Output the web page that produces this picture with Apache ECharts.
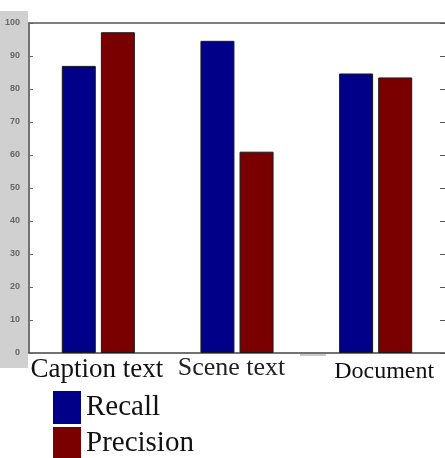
<!DOCTYPE html>
<html>
<head>
<meta charset="utf-8">
<script src="https://cdn.jsdelivr.net/npm/echarts@6/dist/echarts.min.js"></script>
<style>
  html, body { margin: 0; padding: 0; background: #fff; }
  #chart { width: 445px; height: 458px; }
</style>
</head>
<body>
<div id="chart"></div>
<script>
// values
const categories = ['Caption text', 'Scene text', 'Document']
const recall = [87, 94.6, 84.7]
const precision = [97.2, 61, 83.5]
const yTicks = { min: 0, max: 100, step: 10 }

// each category label sits a bit differently in the original
const labelKeys = ['cap', 'scene', 'doc']

const chart = echarts.init(document.getElementById('chart'))

const serif = '"Liberation Serif", "DejaVu Serif", serif'

let option = {
  backgroundColor: '#fff',
  animation: false,
  graphic: [
    {
      type: 'rect',
      z: -10,
      shape: { x: 0, y: 11, width: 28, height: 357 },
      style: { fill: '#d0d0d0' }
    },
    {
      type: 'rect',
      shape: { x: 300, y: 354, width: 26, height: 2 },
      style: { fill: '#c8c8c8' }
    }
  ],
  grid: {
    left: 29,
    top: 23,
    width: 419,
    height: 330
  },
  legend: {
    orient: 'vertical',
    left: 53,
    top: 391,
    height: 90,
    padding: 0,
    itemWidth: 28,
    itemHeight: 33,
    itemGap: 3,
    icon: 'rect',
    itemStyle: { borderWidth: 0 },
    textStyle: {
      fontFamily: serif,
      fontSize: 29,
      color: '#111',
      padding: [2, 0, 0, 0]
    },
    data: ['Recall', 'Precision']
  },
  xAxis: [
    {
      type: 'category',
      data: categories,
      position: 'bottom',
      axisLine: { onZero: false, lineStyle: { color: '#444', width: 1.5 } },
      axisTick: { alignWithLabel: true, inside: true, length: 3, lineStyle: { color: '#666' } },
      axisLabel: {
        margin: 2,
        interval: 0,
        color: '#111',
        fontFamily: serif,
        formatter: function (value, idx) {
          return '{' + labelKeys[idx] + '|' + value + '}'
        },
        rich: {
          cap: { fontFamily: serif, fontSize: 27, lineHeight: 27, color: '#111', padding: [2, 3, 0, 0] },
          scene: { fontFamily: serif, fontSize: 26, lineHeight: 26, color: '#222', padding: [0, 11, 0, 0] },
          doc: { fontFamily: serif, fontSize: 24, lineHeight: 24, color: '#111', padding: [10, 0, 0, 17] }
        }
      }
    },
    {
      type: 'category',
      data: categories,
      position: 'top',
      axisLine: { onZero: false, lineStyle: { color: '#555', width: 1.5 } },
      axisTick: { alignWithLabel: true, inside: true, length: 4, lineStyle: { color: '#555' } },
      axisLabel: { show: false }
    }
  ],
  yAxis: [
    {
      type: 'value',
      min: yTicks.min,
      max: yTicks.max,
      interval: yTicks.step,
      position: 'left',
      splitLine: { show: false },
      axisLine: { show: true, onZero: false, lineStyle: { color: '#444', width: 1.5 } },
      axisTick: { show: true, inside: true, length: 4, lineStyle: { color: '#666' } },
      axisLabel: {
        margin: 9,
        fontSize: 9,
        fontWeight: 'bold',
        color: '#666',
        fontFamily: '"Liberation Sans", Arial, sans-serif'
      }
    },
    {
      type: 'value',
      min: yTicks.min,
      max: yTicks.max,
      interval: yTicks.step,
      position: 'right',
      splitLine: { show: false },
      axisLine: { show: true, onZero: false, lineStyle: { color: '#444' } },
      axisTick: { show: true, inside: true, length: 5, lineStyle: { color: '#555' } },
      axisLabel: { show: false }
    }
  ],
  series: [
    {
      name: 'Recall',
      type: 'bar',
      data: recall,
      barWidth: 34,
      barGap: '15%',
      itemStyle: { color: '#000088', borderColor: '#1a1a1a', borderWidth: 1 }
    },
    {
      name: 'Precision',
      type: 'bar',
      data: precision,
      barWidth: 34,
      itemStyle: { color: '#7a0000', borderColor: '#1a1a1a', borderWidth: 1 }
    }
  ]
}

chart.setOption(option)
window.addEventListener('resize', () => {
  chart && chart.resize()
})
</script>
</body>
</html>
